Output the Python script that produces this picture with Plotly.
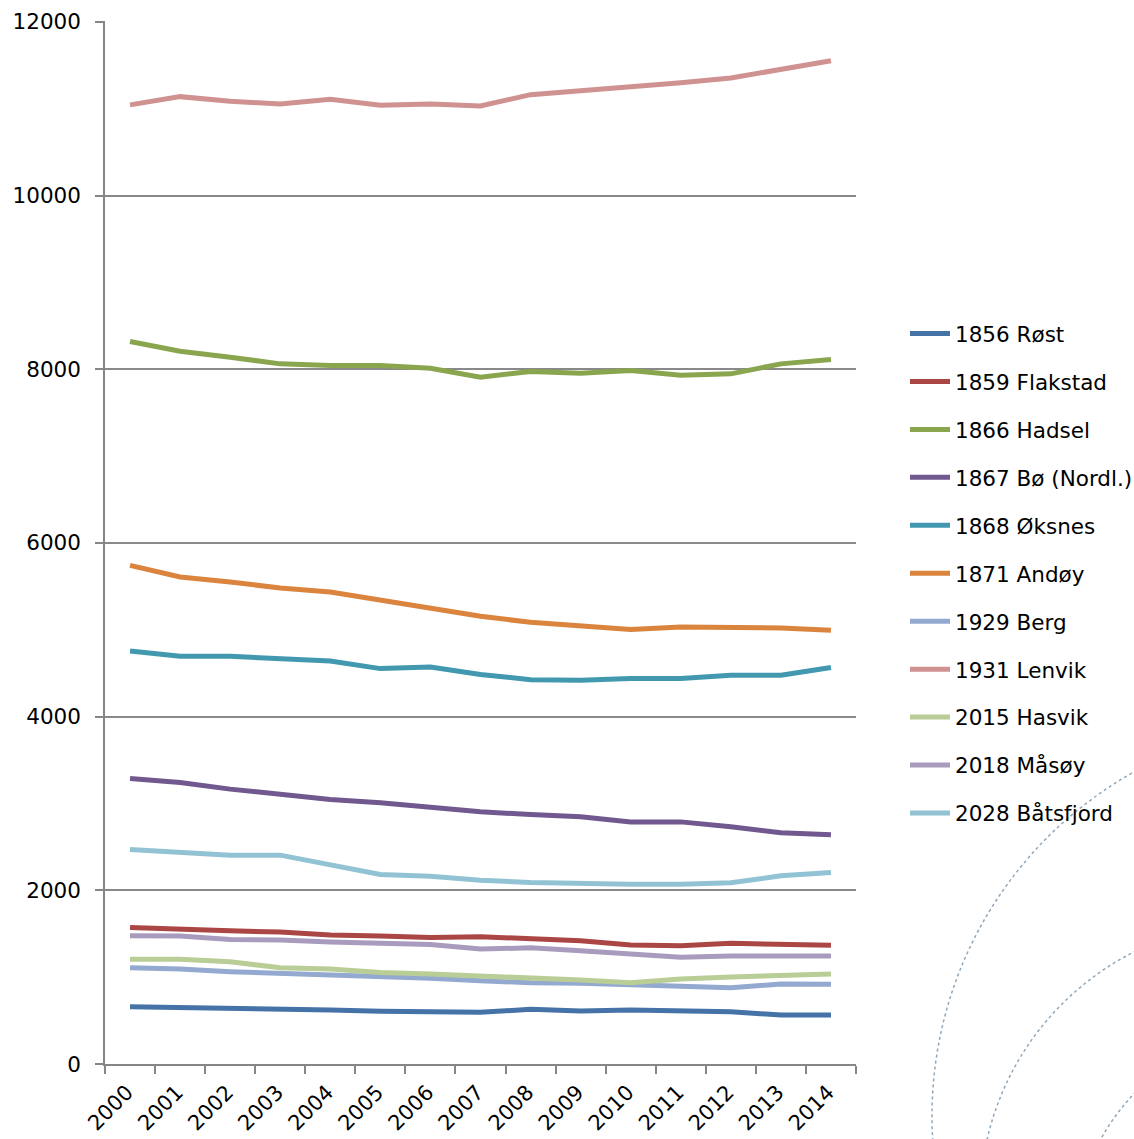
import plotly.graph_objects as go

years = [str(y) for y in range(2000, 2015)]

series_names = ["1856 Røst", "1859 Flakstad", "1866 Hadsel", "1867 Bø (Nordl.)",
                "1868 Øksnes", "1871 Andøy", "1929 Berg", "1931 Lenvik",
                "2015 Hasvik", "2018 Måsøy", "2028 Båtsfjord"]

rost = [659, 652, 648, 641, 621, 606, 602, 595, 629, 610, 621, 613, 602, 564, 564]
flakstad = [1573, 1550, 1534, 1519, 1484, 1473, 1458, 1465, 1446, 1419, 1369, 1361, 1389, 1377, 1366]
hadsel = [8320, 8208, 8139, 8062, 8043, 8043, 8012, 7909, 7975, 7955, 7986, 7932, 7947, 8062, 8113]
bo = [3288, 3241, 3165, 3103, 3046, 3007, 2954, 2904, 2873, 2846, 2788, 2788, 2731, 2662, 2639]
oksnes = [4756, 4695, 4695, 4672, 4641, 4553, 4572, 4484, 4426, 4419, 4438, 4438, 4476, 4476, 4565]
andoy = [5742, 5608, 5550, 5481, 5435, 5339, 5244, 5155, 5086, 5044, 5002, 5032, 5032, 5021, 4994]
berg = [1108, 1093, 1062, 1044, 1036, 1005, 986, 959, 936, 929, 909, 898, 878, 921, 917]
lenvik = [11044, 11139, 11085, 11055, 11108, 11039, 11055, 11032, 11162, 11208, 11247, 11300, 11354, 11458, 11553]
hasvik = [1205, 1205, 1177, 1108, 1093, 1055, 1036, 1013, 998, 967, 936, 978, 1001, 1024, 1036]
masoy = [1476, 1473, 1435, 1427, 1404, 1396, 1377, 1323, 1338, 1304, 1266, 1228, 1243, 1243, 1243]
batsfjord = [2470, 2443, 2405, 2405, 2290, 2183, 2163, 2117, 2091, 2075, 2071, 2071, 2086, 2167, 2206]

series_values = [rost, flakstad, hadsel, bo, oksnes, andoy, berg, lenvik, hasvik, masoy, batsfjord]
colors = ["#4572A7", "#AA4643", "#89A54E", "#71588F", "#4198AF", "#DB843D",
          "#93A9CF", "#D09290", "#B9CD96", "#A99BBD", "#92C3D4"]

W, H = 1134, 1139
L, R, T, B = 105, 856, 21, 1064  # plot area in pixels

fig = go.Figure()
for name, vals, col in zip(series_names, series_values, colors):
    fig.add_trace(go.Scatter(x=years, y=vals, name=name, mode="lines",
                             legendgroup=name,
                             line=dict(color=col, width=5)))


def px_to_paper(px, py):
    return (px - L) / (R - L), (B - py) / (B - T)


shapes = []
for cx, cy, r in [(1326, 1116, 394), (1260, 1202, 280), (1300, 1250, 228)]:
    x0, y1 = px_to_paper(cx - r, cy - r)
    x1, y0 = px_to_paper(cx + r, cy + r)
    shapes.append(dict(type="circle", xref="paper", yref="paper",
                       x0=x0, x1=x1, y0=y0, y1=y1,
                       line=dict(color="#8FA7BA", width=1.5, dash="3px,3px"),
                       layer="below"))

font = "DejaVu Sans"
fig.update_layout(
    width=W, height=H,
    margin=dict(l=L, r=W - R, t=T, b=H - B, autoexpand=False),
    paper_bgcolor="white", plot_bgcolor="white",
    font=dict(family=font, size=21.5, color="black"),
    shapes=shapes,
    showlegend=True,
    legend=dict(x=(905 - L) / (R - L), xanchor="left",
                y=(B - 313) / (B - T), yanchor="top",
                font=dict(family=font, size=21.5, color="black"),
                tracegroupgap=17, bgcolor="rgba(0,0,0,0)",
                itemwidth=40),
    xaxis=dict(type="category", range=[-0.5, len(years) - 0.5],
               showgrid=False, showline=True,
               linecolor="#868686", linewidth=1.5, automargin=False,
               ticks="outside", tickson="boundaries", ticklen=8,
               tickcolor="#868686", tickwidth=1.5,
               tickangle=-45, ticklabelshift=-3, ticklabelstandoff=6,
               tickfont=dict(family=font, size=21)),
    yaxis=dict(range=[0, 12010], dtick=2000, tickformat="d", showgrid=True,
               gridcolor="#898989", gridwidth=1.5, automargin=False,
               showline=True, linecolor="#868686", linewidth=1.5,
               ticks="outside", ticklen=8, tickcolor="#868686", tickwidth=1.5,
               ticklabelstandoff=10, zeroline=False,
               tickfont=dict(family=font, size=21.5)),
)

fig.write_html("out.html", config={"displayModeBar": False},
               post_script="document.body.style.margin='0';")
